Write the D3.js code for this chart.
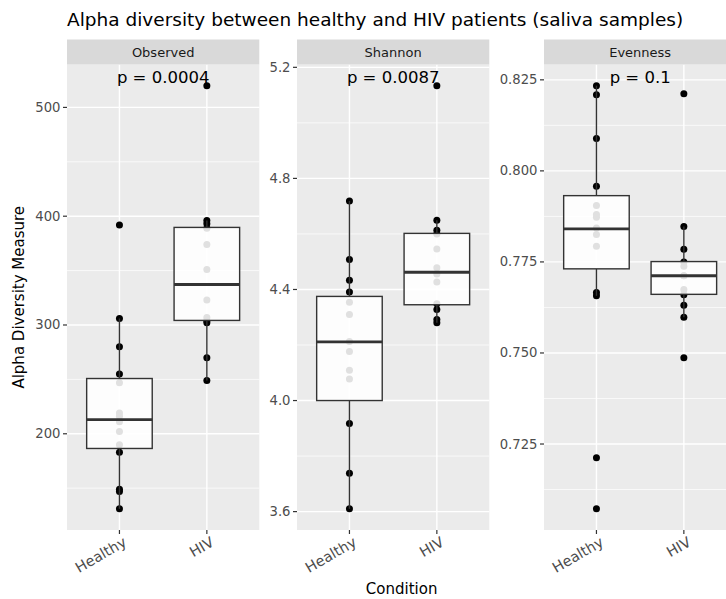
<!DOCTYPE html>
<html>
<head>
<meta charset="utf-8">
<script src="https://cdn.jsdelivr.net/npm/d3@7"></script>
<style>
  html, body { margin: 0; padding: 0; background: #fff; }
  svg { display: block; font-family: "DejaVu Sans", sans-serif; }
</style>
</head>
<body>
<svg id="chart" width="726" height="599"></svg>
<script>
// ---- data -------------------------------------------------------------
const facets = ["Observed", "Shannon", "Evenness"];
const conditions = ["Healthy", "HIV"];
const pLabels = ["p = 0.0004", "p = 0.0087", "p = 0.1"];

// per-sample alpha diversity values
const observedHealthy = [392, 306, 280, 255, 247, 219, 216, 211, 202, 190, 183, 149, 147, 131];
const observedHIV = [520, 396, 393, 389, 374, 351, 323, 307, 304, 302, 270, 249];
const shannonHealthy = [4.719, 4.508, 4.433, 4.391, 4.354, 4.310, 4.213, 4.177, 4.109, 4.078, 3.917, 3.738, 3.610];
const shannonHIV = [5.134, 4.649, 4.613, 4.600, 4.546, 4.478, 4.456, 4.427, 4.349, 4.328, 4.292, 4.280];
const evennessHealthy = [0.8234, 0.8209, 0.8089, 0.7958, 0.7905, 0.7880, 0.7873, 0.7843, 0.7825, 0.7793, 0.7666, 0.7657, 0.7212, 0.7072];
const evennessHIV = [0.8212, 0.7847, 0.7785, 0.7750, 0.7738, 0.7712, 0.7712, 0.7674, 0.7660, 0.7631, 0.7598, 0.7487];

// box summaries: [lower whisker, Q1, median, Q3, upper whisker]
const observedBoxHealthy = [131, 186.5, 213.1, 250.8, 306];
const observedBoxHIV = [249, 304.2, 337.2, 389.7, 396];
const shannonBoxHealthy = [3.610, 4.000, 4.211, 4.375, 4.719];
const shannonBoxHIV = [4.280, 4.345, 4.462, 4.602, 4.649];
const evennessBoxHealthy = [0.7657, 0.7731, 0.7841, 0.7932, 0.8234];
const evennessBoxHIV = [0.7598, 0.7661, 0.7712, 0.7751, 0.7847];

// axis breaks
const observedTicks = [200, 300, 400, 500];
const observedMinor = [150, 250, 350, 450];
const shannonTicks = [3.6, 4.0, 4.4, 4.8, 5.2];
const shannonMinor = [3.8, 4.2, 4.6, 5.0];
const evennessTicks = [0.725, 0.750, 0.775, 0.800, 0.825];
const evennessMinor = [0.7125, 0.7375, 0.7625, 0.7875, 0.8125];

const panels = [
  { points: [observedHealthy, observedHIV], boxes: [observedBoxHealthy, observedBoxHIV],
    ticks: observedTicks, minor: observedMinor, fmt: d3.format("d") },
  { points: [shannonHealthy, shannonHIV], boxes: [shannonBoxHealthy, shannonBoxHIV],
    ticks: shannonTicks, minor: shannonMinor, fmt: d3.format(".1f") },
  { points: [evennessHealthy, evennessHIV], boxes: [evennessBoxHealthy, evennessBoxHIV],
    ticks: evennessTicks, minor: evennessMinor, fmt: d3.format(".3f") }
];

// ---- layout -----------------------------------------------------------
const panelLefts = [67, 297, 544];
const panelW = 192.3;
const stripTop = 39.5, stripH = 25;
const plotTop = stripTop + stripH, plotBottom = 530;
const boxWidthFrac = 0.75;

const svg = d3.select("#chart");

svg.append("text")
  .attr("x", 67).attr("y", 26)
  .attr("font-size", 18.5).attr("fill", "#000")
  .text("Alpha diversity between healthy and HIV patients (saliva samples)");

panels.forEach((p, i) => {
  const left = panelLefts[i];
  const x = d3.scalePoint().domain(conditions).range([left, left + panelW]).padding(0.6);
  const all = p.points.flat();
  const [lo, hi] = d3.extent(all);
  const pad = (hi - lo) * 0.05;
  const y = d3.scaleLinear().domain([lo - pad, hi + pad]).range([plotBottom, plotTop]);
  const bw = x.step() * boxWidthFrac;

  const g = svg.append("g");

  // panel background + grid
  g.append("rect").attr("x", left).attr("y", plotTop)
    .attr("width", panelW).attr("height", plotBottom - plotTop).attr("fill", "#ebebeb");
  g.selectAll(".minor").data(p.minor).join("line")
    .attr("x1", left).attr("x2", left + panelW)
    .attr("y1", d => y(d)).attr("y2", d => y(d))
    .attr("stroke", "#fff").attr("stroke-width", 0.7);
  g.selectAll(".major").data(p.ticks).join("line")
    .attr("x1", left).attr("x2", left + panelW)
    .attr("y1", d => y(d)).attr("y2", d => y(d))
    .attr("stroke", "#fff").attr("stroke-width", 1.4);
  g.selectAll(".vmajor").data(conditions).join("line")
    .attr("x1", d => x(d)).attr("x2", d => x(d))
    .attr("y1", plotTop).attr("y2", plotBottom)
    .attr("stroke", "#fff").attr("stroke-width", 1.4);

  // strip
  g.append("rect").attr("x", left).attr("y", stripTop)
    .attr("width", panelW).attr("height", stripH).attr("fill", "#d9d9d9");
  g.append("text").attr("x", left + panelW / 2).attr("y", stripTop + stripH / 2)
    .attr("text-anchor", "middle").attr("dominant-baseline", "central")
    .attr("font-size", 13).attr("fill", "#1a1a1a").text(facets[i]);

  // y axis ticks + labels
  g.selectAll(".ytick").data(p.ticks).join("line")
    .attr("x1", left - 4).attr("x2", left)
    .attr("y1", d => y(d)).attr("y2", d => y(d))
    .attr("stroke", "#333").attr("stroke-width", 1.2);
  g.selectAll(".ylab").data(p.ticks).join("text")
    .attr("x", left - 6.5).attr("y", d => y(d))
    .attr("text-anchor", "end").attr("dominant-baseline", "central")
    .attr("font-size", 13.2).attr("fill", "#4d4d4d")
    .text(d => p.fmt(d));

  // x axis ticks + rotated labels
  g.selectAll(".xtick").data(conditions).join("line")
    .attr("x1", d => x(d)).attr("x2", d => x(d))
    .attr("y1", plotBottom).attr("y2", plotBottom + 4)
    .attr("stroke", "#333").attr("stroke-width", 1.2);
  g.selectAll(".xlab").data(conditions).join("text")
    .attr("transform", d => `translate(${x(d) + 3},${plotBottom + 6}) rotate(-30)`)
    .attr("text-anchor", "end").attr("dy", "0.72em")
    .attr("font-size", 14.5).attr("fill", "#4d4d4d")
    .text(d => d);

  // data points (drawn under the translucent boxes)
  conditions.forEach((c, j) => {
    g.selectAll(null).data(p.points[j]).join("circle")
      .attr("cx", x(c)).attr("cy", d => y(d)).attr("r", 3.5)
      .attr("fill", "#000");
  });

  // boxplots
  conditions.forEach((c, j) => {
    const [wl, q1, med, q3, wh] = p.boxes[j];
    const cx = x(c);
    g.append("line").attr("x1", cx).attr("x2", cx).attr("y1", y(q3)).attr("y2", y(wh))
      .attr("stroke", "#333").attr("stroke-width", 1.4);
    g.append("line").attr("x1", cx).attr("x2", cx).attr("y1", y(q1)).attr("y2", y(wl))
      .attr("stroke", "#333").attr("stroke-width", 1.4);
    g.append("rect").attr("x", cx - bw / 2).attr("y", y(q3))
      .attr("width", bw).attr("height", y(q1) - y(q3))
      .attr("fill", "#fff").attr("fill-opacity", 0.88)
      .attr("stroke", "#333").attr("stroke-width", 1.4);
    g.append("line").attr("x1", cx - bw / 2).attr("x2", cx + bw / 2)
      .attr("y1", y(med)).attr("y2", y(med))
      .attr("stroke", "#333").attr("stroke-width", 2.8);
  });

  // p-value annotation
  g.append("text")
    .attr("x", left + panelW / 2).attr("y", y(hi) - 2.7)
    .attr("text-anchor", "middle").attr("font-size", 16.5).attr("fill", "#000")
    .text(pLabels[i]);
});

// axis titles
svg.append("text")
  .attr("transform", `translate(24,${(plotTop + plotBottom) / 2}) rotate(-90)`)
  .attr("text-anchor", "middle").attr("font-size", 15).attr("fill", "#000")
  .text("Alpha Diversity Measure");
svg.append("text")
  .attr("x", (panelLefts[0] + panelLefts[2] + panelW) / 2).attr("y", 594)
  .attr("text-anchor", "middle").attr("font-size", 15).attr("fill", "#000")
  .text("Condition");
</script>
</body>
</html>
